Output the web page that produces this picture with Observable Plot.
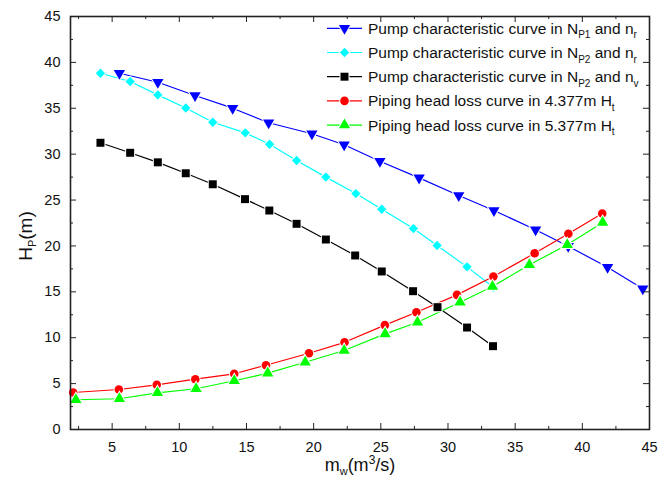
<!DOCTYPE html>
<html><head><meta charset="utf-8">
<script src="https://cdn.jsdelivr.net/npm/d3@7"></script>
<script src="https://cdn.jsdelivr.net/npm/@observablehq/plot@0.6"></script>
<style>body{margin:0;background:#fff}</style>
</head><body><div id="chart"></div>
<script>
// ---- data ----
const pump1X = [5.54, 8.40, 11.17, 13.97, 16.65, 19.87, 22.27, 24.93, 27.85, 30.80, 33.42, 36.52, 38.95, 41.88, 44.50];
const pump1Y = [38.82, 37.84, 36.39, 35.01, 33.42, 32.22, 31.02, 29.23, 27.42, 25.50, 23.86, 21.76, 19.97, 17.68, 15.33];
const pump2X = [4.13, 6.34, 8.40, 10.48, 12.49, 14.91, 16.72, 18.73, 20.91, 23.14, 25.07, 27.43, 29.19, 31.42, 33.38];
const pump2Y = [38.82, 37.92, 36.46, 35.03, 33.48, 32.32, 31.08, 29.31, 27.50, 25.71, 24.00, 21.89, 20.05, 17.72, 15.50];
const pump3X = [4.13, 6.34, 8.40, 10.48, 12.49, 14.89, 16.70, 18.73, 20.91, 23.09, 25.07, 27.40, 29.22, 31.42, 33.35];
const pump3Y = [31.24, 30.15, 29.11, 27.92, 26.72, 25.10, 23.86, 22.41, 20.70, 18.96, 17.22, 15.07, 13.33, 11.11, 9.08];
const loss1X = [2.10, 5.50, 8.32, 11.19, 14.09, 16.45, 19.65, 22.30, 25.30, 27.65, 30.67, 33.38, 36.45, 38.96, 41.48];
const loss1Y = [4.03, 4.36, 4.87, 5.48, 6.07, 7.00, 8.31, 9.50, 11.37, 12.78, 14.67, 16.67, 19.20, 21.33, 23.53];
const loss2X = [2.30, 5.54, 8.37, 11.25, 14.09, 16.58, 19.37, 22.27, 25.32, 27.73, 30.90, 33.31, 36.06, 38.88, 41.51];
const loss2Y = [3.24, 3.35, 4.00, 4.44, 5.31, 6.14, 7.33, 8.61, 10.42, 11.68, 13.86, 15.58, 17.95, 20.13, 22.55];

const legendLabels = [
  [["Pump characteristic curve in N", 0], ["P1", 1], [" and n", 0], ["r", 1]],
  [["Pump characteristic curve in N", 0], ["P2", 1], [" and n", 0], ["r", 1]],
  [["Pump characteristic curve in N", 0], ["P2", 1], [" and n", 0], ["v", 1]],
  [["Piping head loss curve in 4.377m H", 0], ["t", 1]],
  [["Piping head loss curve in 5.377m H", 0], ["t", 1]]
];
const majorTicks = [5, 10, 15, 20, 25, 30, 35, 40, 45];
const yMajorTicks = [0, 5, 10, 15, 20, 25, 30, 35, 40, 45];
const minorTicks = [2.5, 7.5, 12.5, 17.5, 22.5, 27.5, 32.5, 37.5, 42.5];

// ---- styling ----
const styles = [
  {color: "#0000ff", symbol: "triangle", d3sym: d3.symbolTriangle, r: 4.2, rotate: 180},
  {color: "#00ffff", symbol: "diamond2", d3sym: d3.symbolDiamond2, r: 4.2, rotate: 0},
  {color: "#000000", symbol: "square", d3sym: d3.symbolSquare, r: 4.5, rotate: 0},
  {color: "#ff0000", symbol: "circle", d3sym: d3.symbolCircle, r: 4.3, rotate: 0},
  {color: "#00ff00", symbol: "triangle", d3sym: d3.symbolTriangle, r: 4.2, rotate: 0}
];
const seriesXY = [[pump1X, pump1Y], [pump2X, pump2Y], [pump3X, pump3Y], [loss1X, loss1Y], [loss2X, loss2Y]];

const W = 671, H = 481, mL = 70, mT = 16, mR = 22, mB = 52;
const innerW = W - mL - mR, innerH = H - mT - mB;
const FONT = "'Liberation Sans', Arial, sans-serif";

const marks = [];
seriesXY.forEach(([xs, ys], i) => {
  const data = xs.map((x, j) => ({x, y: ys[j]}));
  const s = styles[i];
  marks.push(Plot.line(data, {x: "x", y: "y", stroke: s.color, strokeWidth: 1.2}));
});
seriesXY.forEach(([xs, ys], i) => {
  const data = xs.map((x, j) => ({x, y: ys[j]}));
  const s = styles[i];
  marks.push(Plot.dot(data, {x: "x", y: "y", symbol: () => s.symbol, r: s.r, fill: s.color,
    stroke: "white", strokeWidth: 2, paintOrder: "stroke", rotate: s.rotate}));
});

const tickStroke = "#222";
marks.push(
  Plot.ruleX(majorTicks, {x: d => d, insetTop: innerH - 6, stroke: tickStroke, strokeWidth: 1}),
  Plot.ruleX(minorTicks, {x: d => d, insetTop: innerH - 3, stroke: tickStroke, strokeWidth: 1}),
  Plot.ruleX(majorTicks, {x: d => d, insetBottom: innerH - 6, stroke: tickStroke, strokeWidth: 1}),
  Plot.ruleX(minorTicks, {x: d => d, insetBottom: innerH - 3, stroke: tickStroke, strokeWidth: 1}),
  Plot.ruleY(yMajorTicks, {y: d => d, insetRight: innerW - 6, stroke: tickStroke, strokeWidth: 1}),
  Plot.ruleY(minorTicks, {y: d => d, insetRight: innerW - 3, stroke: tickStroke, strokeWidth: 1}),
  Plot.ruleY(yMajorTicks, {y: d => d, insetLeft: innerW - 6, stroke: tickStroke, strokeWidth: 1}),
  Plot.ruleY(minorTicks, {y: d => d, insetLeft: innerW - 3, stroke: tickStroke, strokeWidth: 1}),
  Plot.axisX({ticks: majorTicks, tickSize: 0, tickPadding: 12, label: null, fontSize: 14.5, fill: "#111"}),
  Plot.axisY({ticks: yMajorTicks, tickSize: 0, tickPadding: 10, label: null, fontSize: 14.5, fill: "#111"}),
  Plot.frame({stroke: "#222", strokeWidth: 1.6})
);

const plot = Plot.plot({
  width: W, height: H,
  marginLeft: mL, marginTop: mT, marginRight: mR, marginBottom: mB,
  x: {domain: [1.9, 45]},
  y: {domain: [0, 45]},
  style: {fontFamily: FONT, background: "white", overflow: "visible"},
  marks
});

const svg = d3.select(plot);
// axis titles
const xt = svg.append("text").attr("x", 360).attr("y", 471).attr("text-anchor", "middle")
  .attr("font-family", FONT).attr("font-size", 18).attr("fill", "#111");
xt.append("tspan").text("m");
xt.append("tspan").attr("dy", 4).attr("font-size", 11).text("w");
xt.append("tspan").attr("dy", -4).text("(m");
xt.append("tspan").attr("dy", -7).attr("font-size", 12).text("3");
xt.append("tspan").attr("dy", 7).text("/s)");

const yt = svg.append("text").attr("transform", "translate(32,236) rotate(-90)").attr("text-anchor", "middle")
  .attr("font-family", FONT).attr("font-size", 19).attr("fill", "#111");
yt.append("tspan").text("H");
yt.append("tspan").attr("dy", 4).attr("font-size", 11).text("P");
yt.append("tspan").attr("dy", -4).text("(m)");

// legend
const lg = svg.append("g").attr("font-family", FONT).attr("font-size", 15.5).attr("fill", "#111")
  .attr("text-anchor", "start");
legendLabels.forEach((parts, i) => {
  const s = styles[i];
  const yc = 28.3 + i * 24.2;
  lg.append("line").attr("x1", 327).attr("x2", 362).attr("y1", yc).attr("y2", yc)
    .attr("stroke", s.color).attr("stroke-width", 1.2);
  lg.append("path").attr("d", d3.symbol(s.d3sym, Math.PI * s.r * s.r)())
    .attr("transform", `translate(344.5,${yc}) rotate(${s.rotate})`)
    .attr("fill", s.color).attr("stroke", "white").attr("stroke-width", 2).attr("paint-order", "stroke");
  const t = lg.append("text").attr("x", 368).attr("y", yc + 5.5).attr("text-anchor", "start");
  let shifted = 0;
  parts.forEach(([txt, sub]) => {
    const ts = t.append("tspan").text(txt);
    if (sub) { ts.attr("font-size", 10).attr("dy", 4.5 - shifted); shifted = 4.5; }
    else { ts.attr("dy", -shifted); shifted = 0; }
  });
});

document.getElementById("chart").appendChild(plot);
</script>
</body></html>
